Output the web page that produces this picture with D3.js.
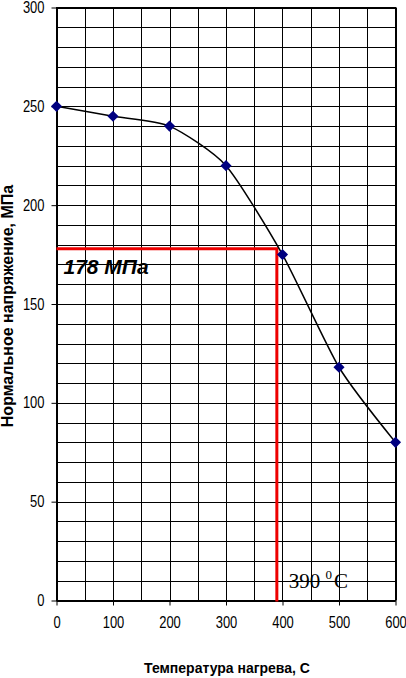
<!DOCTYPE html>
<html>
<head>
<meta charset="utf-8">
<script src="https://cdn.jsdelivr.net/npm/d3@7"></script>
<style>
  html, body { margin: 0; padding: 0; background: #fff; }
  svg { display: block; }
</style>
</head>
<body>
<svg id="chart" width="406" height="678"></svg>
<script>
// ---- data ----
const temperatures = [0, 100, 200, 300, 400, 500, 600];
const stresses = [250, 245, 240, 220, 175, 118, 80];
const xTicks = [0, 100, 200, 300, 400, 500, 600];
const yTicks = [0, 50, 100, 150, 200, 250, 300];
const xGrid = d3.range(0, 601, 50);
const yGrid = d3.range(0, 301, 10);
const refTemp = 390;
const refStress = 178;
const xTitle = "Температура нагрева, C";
const yTitle = "Нормальное напряжение, МПа";
const stressLabel = "178 МПа";
const tempLabel = "390";

const svg = d3.select("#chart");
const x = d3.scaleLinear().domain([0, 600]).range([56.5, 395.5]);
const y = d3.scaleLinear().domain([0, 300]).range([600.5, 7.5]);

// grid
const g = svg.append("g");
g.selectAll("line.v").data(xGrid).enter().append("line")
  .attr("x1", d => Math.round(x(d)) + 0.5).attr("x2", d => Math.round(x(d)) + 0.5)
  .attr("y1", y(0)).attr("y2", y(300))
  .attr("stroke", "#000").attr("stroke-width", 1);
g.selectAll("line.h").data(yGrid).enter().append("line")
  .attr("y1", d => Math.round(y(d)) + 0.5).attr("y2", d => Math.round(y(d)) + 0.5)
  .attr("x1", x(0)).attr("x2", x(600))
  .attr("stroke", "#000").attr("stroke-width", 1);

// axes
const sx = 0.81;
const xAxis = d3.axisBottom(x).tickValues(xTicks).tickSize(5).tickSizeOuter(0).tickPadding(11);
const yAxis = d3.axisLeft(y).tickValues(yTicks).tickSize(5).tickSizeOuter(0).tickPadding(12);
const gx = svg.append("g").attr("transform", `translate(0,${y(0)})`).call(xAxis);
const gy = svg.append("g").attr("transform", `translate(${x(0)},0)`).call(yAxis);
[gx, gy].forEach(a => {
  a.selectAll("path,line").attr("stroke", "#000");
  a.selectAll("text").attr("fill", "#000")
    .style("font-family", "'Liberation Sans', Arial, sans-serif")
    .style("font-size", "16px");
});
gx.selectAll("text").attr("transform", `scale(${sx},1)`);
gy.selectAll("text").attr("transform", `scale(${sx},1)`).attr("x", -12 / sx);

// border
svg.append("rect")
  .attr("x", x(0)).attr("y", y(300))
  .attr("width", x(600) - x(0)).attr("height", y(0) - y(300))
  .attr("fill", "none").attr("stroke", "#000").attr("stroke-width", 1);

// reference red lines
svg.append("path")
  .attr("d", `M${x(0)},${y(refStress)}H${x(refTemp)}V${y(0) + 1}`)
  .attr("fill", "none").attr("stroke", "#ee0000").attr("stroke-width", 3);

// curve
const pts = temperatures.map((t, i) => [t, stresses[i]]);
const line = d3.line().x(d => x(d[0])).y(d => y(d[1])).curve(d3.curveCardinal.tension(0.35));
svg.append("path").datum(pts).attr("d", line)
  .attr("fill", "none").attr("stroke", "#000").attr("stroke-width", 1.5);

// markers
svg.selectAll("path.m").data(pts).enter().append("path")
  .attr("d", d3.symbol().type(d3.symbolSquare).size(62)())
  .attr("transform", d => `translate(${x(d[0])},${y(d[1])}) rotate(45)`)
  .attr("fill", "#000080");

// annotations
svg.append("text")
  .attr("x", x(0) + 7).attr("y", y(refStress) + 25)
  .style("font-family", "'Liberation Sans', Arial, sans-serif")
  .style("font-size", "21px").style("font-weight", "bold").style("font-style", "italic")
  .attr("fill", "#000").text(stressLabel);

const tt = svg.append("text")
  .attr("x", x(refTemp) + 12).attr("y", y(0) - 13)
  .style("font-family", "'Liberation Serif', 'Times New Roman', serif")
  .style("font-size", "21px").attr("fill", "#000");
tt.append("tspan").text(tempLabel + " ");
tt.append("tspan").attr("dy", -9).style("font-size", "13px").text("0");
tt.append("tspan").attr("dy", 9).attr("dx", 2).text("C");

// titles
svg.append("text")
  .attr("x", (x(0) + x(600)) / 2 + 1).attr("y", 672.5)
  .attr("text-anchor", "middle")
  .style("font-family", "'Liberation Sans', Arial, sans-serif")
  .style("font-size", "14px").style("font-weight", "bold")
  .attr("fill", "#000").text(xTitle);

svg.append("text")
  .attr("transform", `translate(13.3,${(y(0) + y(300)) / 2 + 2}) rotate(-90)`)
  .attr("text-anchor", "middle")
  .style("font-family", "'Liberation Sans', Arial, sans-serif")
  .style("font-size", "16px").style("font-weight", "bold")
  .attr("fill", "#000").text(yTitle);
</script>
</body>
</html>
